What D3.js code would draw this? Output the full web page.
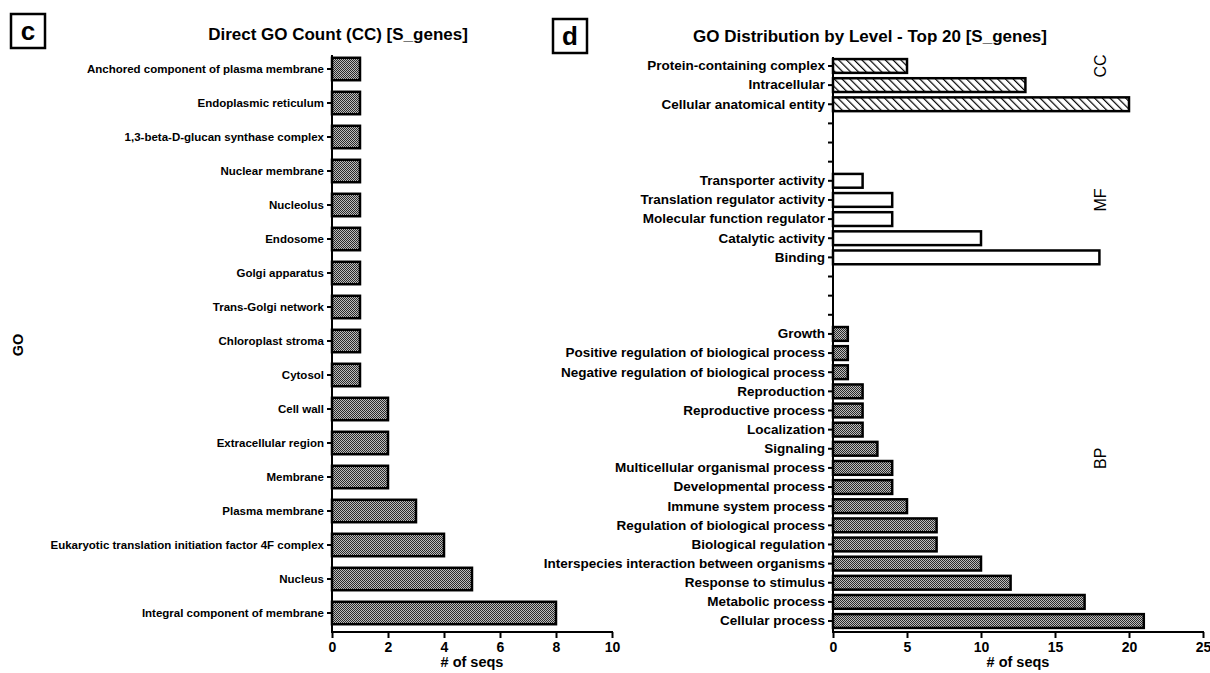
<!DOCTYPE html>
<html><head><meta charset="utf-8">
<script src="https://cdn.jsdelivr.net/npm/d3@7"></script>
<style>
body{margin:0;background:#fff;}
svg text{font-family:"Liberation Sans",Arial,sans-serif;}
</style></head>
<body><svg id="chart" width="1210" height="673"></svg>
<script>
// ---------- Panel c data ----------
const ccCategories = [
  "Anchored component of plasma membrane","Endoplasmic reticulum","1,3-beta-D-glucan synthase complex",
  "Nuclear membrane","Nucleolus","Endosome","Golgi apparatus","Trans-Golgi network","Chloroplast stroma",
  "Cytosol","Cell wall","Extracellular region","Membrane","Plasma membrane",
  "Eukaryotic translation initiation factor 4F complex","Nucleus","Integral component of membrane"];
const ccValues = [1,1,1,1,1,1,1,1,1,1,2,2,2,3,4,5,8];
const ccTicks = [0,2,4,6,8,10];

// ---------- Panel d data ----------
const dCCCategories = ["Protein-containing complex","Intracellular","Cellular anatomical entity"];
const dCCValues = [5,13,20];
const dMFCategories = ["Transporter activity","Translation regulator activity","Molecular function regulator","Catalytic activity","Binding"];
const dMFValues = [2,4,4,10,18];
const dBPCategories = ["Growth","Positive regulation of biological process","Negative regulation of biological process",
  "Reproduction","Reproductive process","Localization","Signaling","Multicellular organismal process",
  "Developmental process","Immune system process","Regulation of biological process","Biological regulation",
  "Interspecies interaction between organisms","Response to stimulus","Metabolic process","Cellular process"];
const dBPValues = [1,1,1,2,2,2,3,4,4,5,7,7,10,12,17,21];
const dTicks = [0,5,10,15,20,25];
const groupLabels = ["CC","MF","BP"];

const svg = d3.select("#chart");
const defs = svg.append("defs");

// checker pattern
const chk = defs.append("pattern").attr("id","checker").attr("patternUnits","userSpaceOnUse")
  .attr("width",2).attr("height",2);
chk.append("rect").attr("width",2).attr("height",2).attr("fill","#bdbdbd");
chk.append("rect").attr("width",1).attr("height",1).attr("fill","#2a2a2a");
chk.append("rect").attr("x",1).attr("y",1).attr("width",1).attr("height",1).attr("fill","#2a2a2a");

// diagonal hatch pattern (\\\)
const hat = defs.append("pattern").attr("id","hatch").attr("patternUnits","userSpaceOnUse")
  .attr("width",5.5).attr("height",5.5).attr("patternTransform","rotate(-45)");
hat.append("rect").attr("width",5.5).attr("height",5.5).attr("fill","#fff");
hat.append("line").attr("x1",0).attr("y1",0).attr("x2",0).attr("y2",5.5)
  .attr("stroke","#000").attr("stroke-width",2.4);

function boxLabel(x,y,s,t){
  const g = svg.append("g");
  g.append("rect").attr("x",x).attr("y",y).attr("width",s).attr("height",s)
    .attr("fill","#fff").attr("stroke","#000").attr("stroke-width",2.5);
  g.append("text").attr("x",x+s/2).attr("y",y+s/2+9).attr("text-anchor","middle")
    .attr("font-size",26).attr("font-weight","bold").text(t);
}
boxLabel(11,14,34,"c");
boxLabel(553,19,34,"d");

function styleAxis(g, fs){
  g.selectAll(".domain").attr("stroke","#000").attr("stroke-width",2);
  g.selectAll(".tick line").attr("stroke","#000").attr("stroke-width",2);
  g.selectAll(".tick text").attr("font-size",fs).attr("font-weight","bold")
    .attr("font-family","'Liberation Sans',Arial,sans-serif").attr("fill","#000");
}

// ---------- Panel c ----------
{
  const x = d3.scaleLinear().domain([0,10]).range([332,612]);
  const y = d3.scaleBand().domain(ccCategories).range([52,630]).paddingInner(0.34).paddingOuter(0.17);
  const g = svg.append("g");
  g.selectAll("rect.bar").data(ccCategories).join("rect").attr("class","bar")
    .attr("x",x(0)).attr("y",d=>y(d))
    .attr("width",(d,i)=>x(ccValues[i])-x(0)).attr("height",y.bandwidth())
    .attr("fill","url(#checker)").attr("stroke","#000").attr("stroke-width",2.5);
  const ya = g.append("g").attr("transform",`translate(${x(0)},0)`)
    .call(d3.axisLeft(y).tickSize(5).tickPadding(3).tickSizeOuter(0));
  ya.select(".domain").attr("d",`M0,55V632`);
  styleAxis(ya,11.5);
  const xa = g.append("g").attr("transform","translate(0,632)")
    .call(d3.axisBottom(x).tickValues(ccTicks).tickSize(6).tickPadding(4).tickSizeOuter(0));
  xa.select(".domain").attr("d",`M${x(0)-1},0H${x(10)+1}`);
  styleAxis(xa,14);
  g.append("text").attr("x",472).attr("y",667).attr("text-anchor","middle")
    .attr("font-size",14.5).attr("font-weight","bold").text("# of seqs");
  g.append("text").attr("transform","translate(23,345) rotate(-90)").attr("text-anchor","middle")
    .attr("font-size",14.5).attr("font-weight","bold").text("GO");
  g.append("text").attr("x",338).attr("y",40).attr("text-anchor","middle")
    .attr("font-size",17).attr("font-weight","bold").text("Direct GO Count (CC) [S_genes]");
}

// ---------- Panel d ----------
{
  const blanks1 = [" ","  ","   "], blanks2 = ["    ","     ","      "];
  const rows = [...dCCCategories, ...blanks1, ...dMFCategories, ...blanks2, ...dBPCategories];
  const vals = new Map();
  dCCCategories.forEach((c,i)=>vals.set(c,{v:dCCValues[i],f:"url(#hatch)"}));
  dMFCategories.forEach((c,i)=>vals.set(c,{v:dMFValues[i],f:"#fff"}));
  dBPCategories.forEach((c,i)=>vals.set(c,{v:dBPValues[i],f:"url(#checker)"}));
  const x = d3.scaleLinear().domain([0,25]).range([833,1203]);
  const y = d3.scaleBand().domain(rows).range([56.4,630.6]).paddingInner(0.28).paddingOuter(0.14);
  const g = svg.append("g");
  const data = rows.filter(r=>vals.has(r));
  g.selectAll("rect.bar").data(data).join("rect").attr("class","bar")
    .attr("x",x(0)).attr("y",d=>y(d))
    .attr("width",d=>x(vals.get(d).v)-x(0)).attr("height",y.bandwidth())
    .attr("fill",d=>vals.get(d).f).attr("stroke","#000").attr("stroke-width",2.5);
  const ya = g.append("g").attr("transform",`translate(${x(0)},0)`)
    .call(d3.axisLeft(y).tickSize(5).tickPadding(3).tickSizeOuter(0));
  ya.select(".domain").attr("d",`M0,57V632`);
  styleAxis(ya,13.5);
  const xa = g.append("g").attr("transform","translate(0,632)")
    .call(d3.axisBottom(x).tickValues(dTicks).tickSize(6).tickPadding(4).tickSizeOuter(0));
  xa.select(".domain").attr("d",`M${x(0)-1},0H${x(25)+1}`);
  styleAxis(xa,14);
  g.append("text").attr("x",1018).attr("y",667).attr("text-anchor","middle")
    .attr("font-size",14.5).attr("font-weight","bold").text("# of seqs");
  g.append("text").attr("x",870).attr("y",42).attr("text-anchor","middle")
    .attr("font-size",17).attr("font-weight","bold").text("GO Distribution by Level - Top 20 [S_genes]");
  // group labels
  const mid = d => y(d)+y.bandwidth()/2;
  const gy = [mid(dCCCategories[0]), mid(dMFCategories[1]), (mid(dBPCategories[6])+mid(dBPCategories[7]))/2];
  groupLabels.forEach((t,i)=>{
    g.append("text").attr("transform",`translate(1106,${gy[i]}) rotate(-90)`).attr("text-anchor","middle")
      .attr("font-size",16).text(t);
  });
}
</script></body></html>
